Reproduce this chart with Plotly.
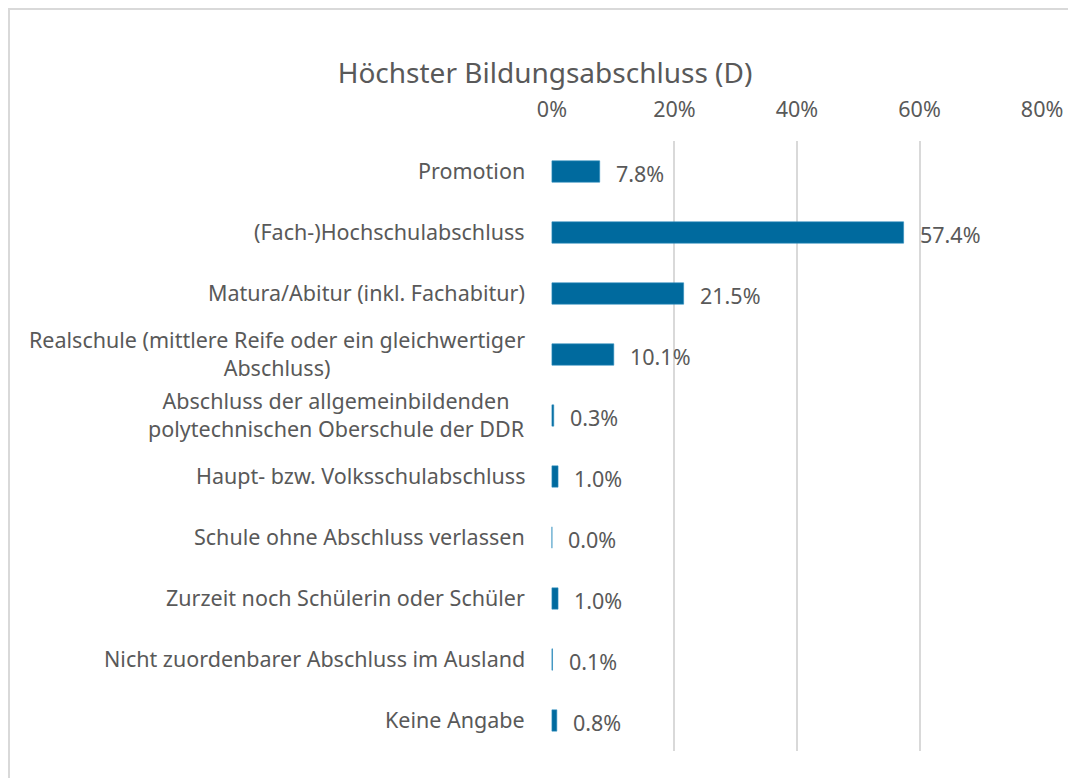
import plotly.graph_objects as go

categories = [
    "Promotion",
    "(Fach-)Hochschulabschluss",
    "Matura/Abitur (inkl. Fachabitur)",
    "Realschule (mittlere Reife oder ein gleichwertiger<br>Abschluss)",
    "Abschluss der allgemeinbildenden<br>polytechnischen Oberschule der DDR",
    "Haupt- bzw. Volksschulabschluss",
    "Schule ohne Abschluss verlassen",
    "Zurzeit noch Schülerin oder Schüler",
    "Nicht zuordenbarer Abschluss im Ausland",
    "Keine Angabe",
]
values = [0.078, 0.574, 0.215, 0.101, 0.003, 0.010, 0.000, 0.010, 0.001, 0.008]
value_labels = ["7.8%", "57.4%", "21.5%", "10.1%", "0.3%", "1.0%", "0.0%", "1.0%", "0.1%", "0.8%"]
tick_vals = [0, 0.2, 0.4, 0.6, 0.8]
tick_text = ["0%", "20%", "40%", "60%", "80%"]

FONT = "Noto Sans"
GRAY = "#595959"
BAR = "#006a9e"

# page body has an 8px margin; compensate
OFF = 8
W, H = 1076 - OFF, 778 - OFF
L, R_, T, B = 551 - OFF, 1043 - OFF, 141 - OFF, 751 - OFF
PW, PH = R_ - L, B - T

fig = go.Figure()
fig.add_trace(go.Bar(
    x=values, y=categories, orientation="h",
    width=0.35,
    marker=dict(color=BAR, line=dict(color="#2f8fc0", width=0.6)),
    hoverinfo="skip",
))

annotations = []
for c, v, t in zip(categories, values, value_labels):
    annotations.append(dict(x=v, y=c, xref="x", yref="y", text=t, showarrow=False,
                            xanchor="left", yanchor="middle", xshift=14, yshift=-2,
                            font=dict(family=FONT, size=21.5, color=GRAY)))
    annotations.append(dict(x=(527 - 551) / PW, y=c, xref="paper", yref="y", text=c, showarrow=False,
                            xanchor="right", yanchor="middle", align="center",
                            yshift=1,
                            font=dict(family=FONT, size=21.5, color=GRAY)))

fig.update_layout(
    width=W, height=H,
    margin=dict(l=L, r=W - R_, t=T, b=H - B, pad=0),
    paper_bgcolor="white", plot_bgcolor="white",
    showlegend=False,
    title=dict(text="Höchster Bildungsabschluss (D)", x=(545 - OFF) / W, xanchor="center",
               y=1 - (73 - OFF) / H, yanchor="middle", xref="container",
               font=dict(family=FONT, size=28, color=GRAY)),
    xaxis=dict(side="top", range=[-0.0015, 0.8015], tickvals=tick_vals, ticktext=tick_text,
               showgrid=True, gridcolor="#d9d9d9", gridwidth=1.5, zeroline=False,
               showline=False, ticks="", ticklabelstandoff=19,
               tickfont=dict(family=FONT, size=21.5, color=GRAY)),
    yaxis=dict(autorange="reversed", showticklabels=False, showgrid=False,
               zeroline=False, showline=False, ticks=""),
    annotations=annotations,
    shapes=[dict(type="rect", xref="paper", yref="paper",
                 x0=(9 - 551) / PW, x1=(1090 - 551) / PW,
                 y0=(751 - 795) / PH, y1=(751 - 9) / PH,
                 line=dict(color="#d9d9d9", width=2), fillcolor="rgba(0,0,0,0)",
                 layer="below")],
)

fig.write_html("out.html")
